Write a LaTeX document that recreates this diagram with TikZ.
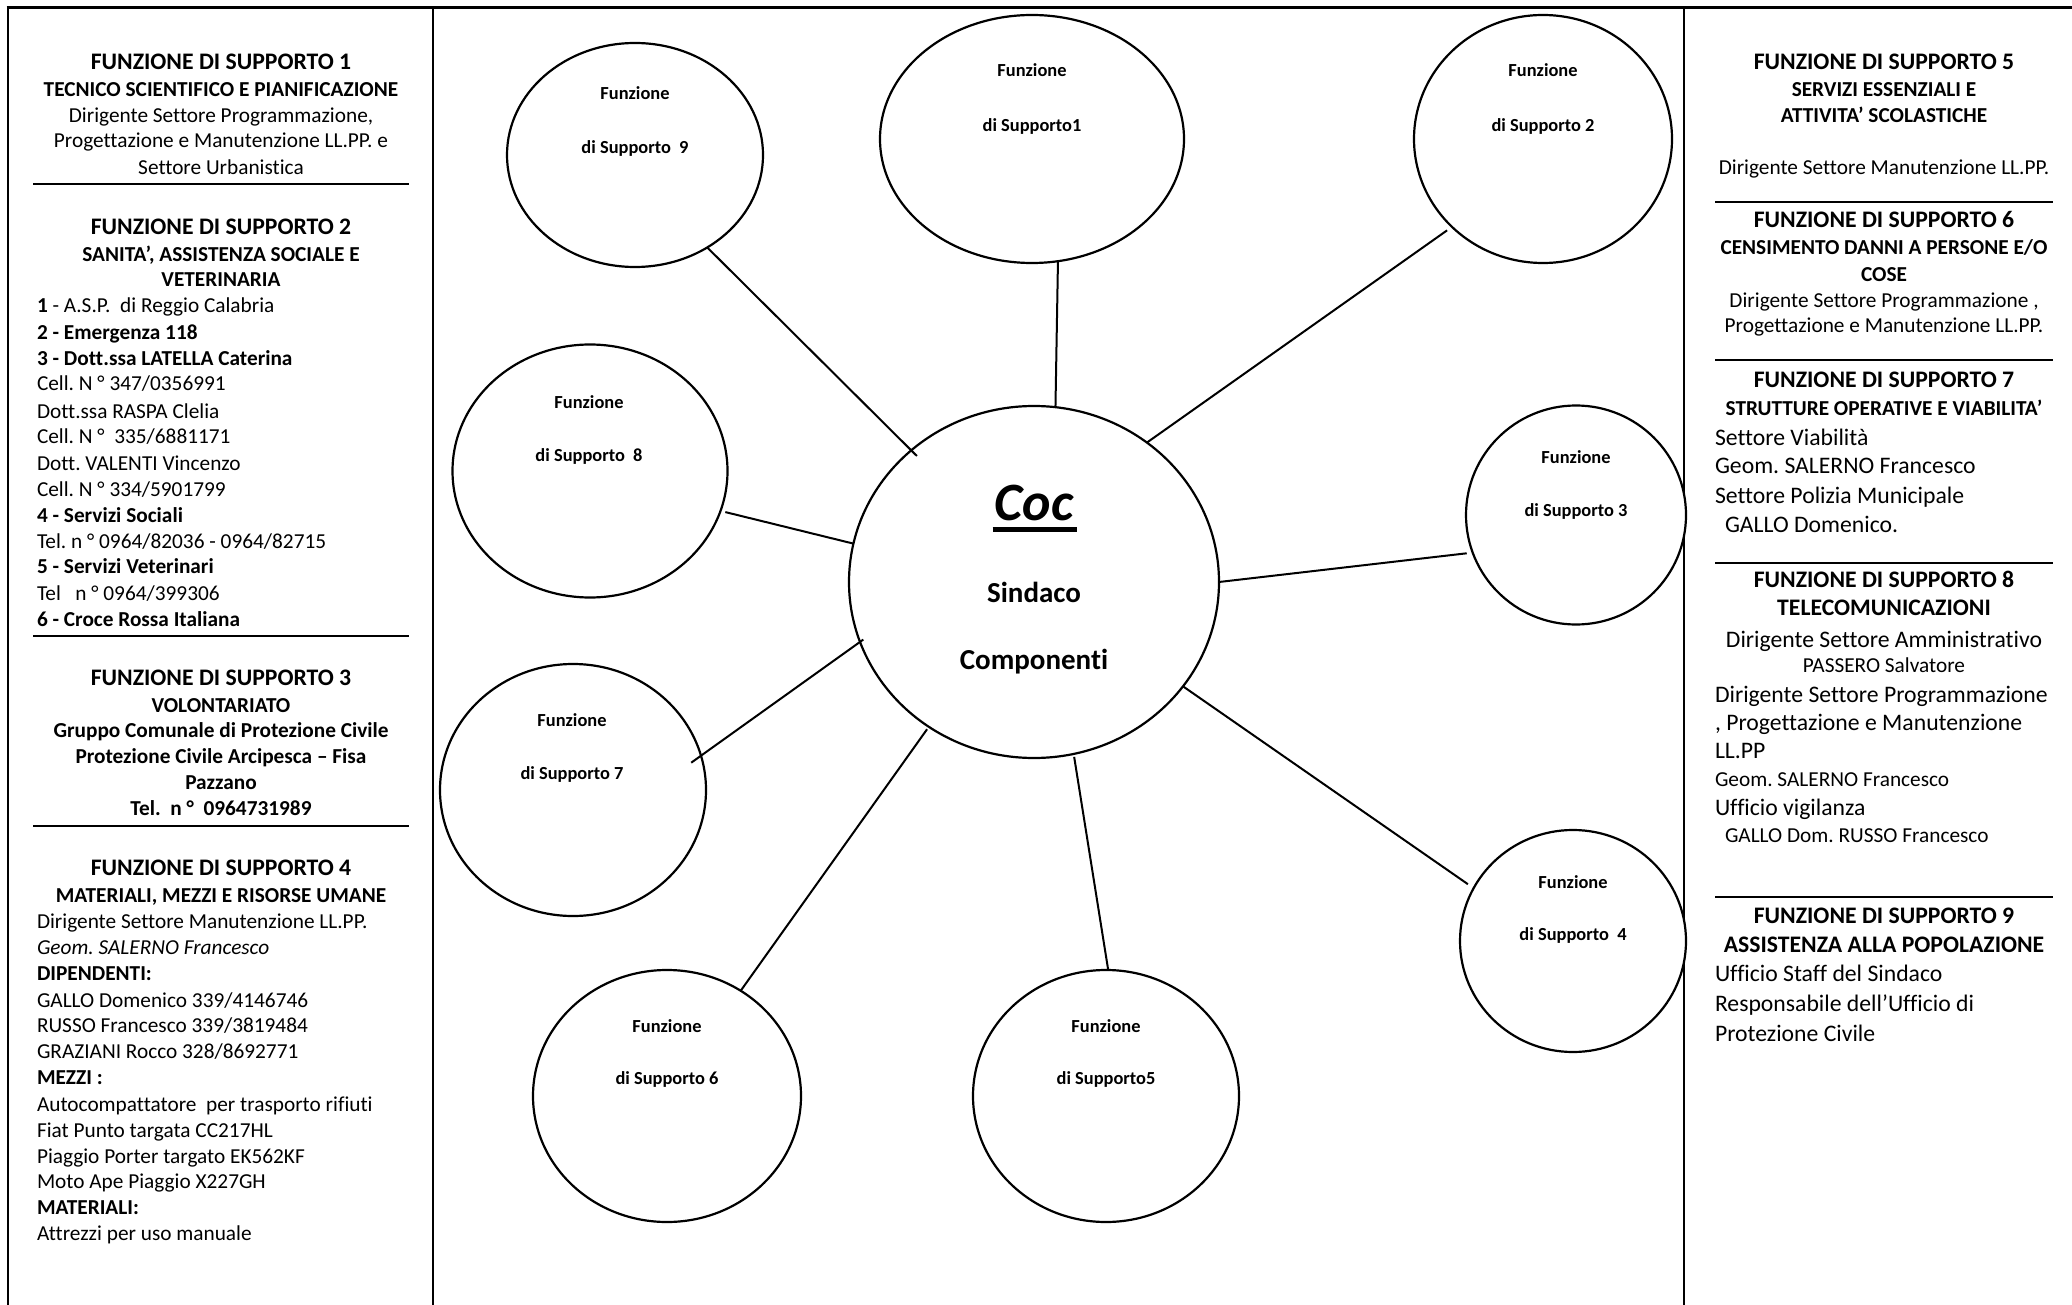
\documentclass[tikz,border=0pt]{standalone}
\usepackage{fontspec}
\setmainfont{Carlito}[Ligatures={TeX,NoCommon,NoRare,NoDiscretionary},Contextuals={NoAlternate}]
\frenchspacing
\usetikzlibrary{shapes.geometric}
\tikzset{
  every node/.style={inner sep=0pt, outer sep=0pt},
  hd/.style={anchor=base, font=\fontsize{23.7}{28}\selectfont\bfseries},
  sh/.style={anchor=base, font=\fontsize{21.3}{26}\selectfont\bfseries},
  shl/.style={anchor=base, font=\fontsize{23.7}{28}\selectfont\bfseries},
  bdc/.style={anchor=base, font=\fontsize{21.3}{26}\selectfont},
  bdl/.style={anchor=base west, font=\fontsize{21.3}{26}\selectfont},
  bbl/.style={anchor=base west, font=\fontsize{21.3}{26}\selectfont\bfseries},
  lgc/.style={anchor=base, font=\fontsize{23.7}{28}\selectfont},
  lgl/.style={anchor=base west, font=\fontsize{23.7}{28}\selectfont},
  ct/.style={anchor=base, font=\fontsize{18.4}{22}\selectfont\bfseries},
  ctr/.style={anchor=base, font=\fontsize{29}{34}\selectfont\bfseries},
  bubble/.style={ellipse, draw, line width=2.2pt, fill=white},
  frameline/.style={line width=2.8pt},
  rulel/.style={line width=2.8pt},
  ruler/.style={line width=1.8pt},
  link/.style={line width=2pt}
}
\begin{document}
\frenchspacing
\begin{tikzpicture}[x=1pt,y=-1pt]
\useasboundingbox (0,0) rectangle (2072,1305);
\fill[white] (0,0) rectangle (2072,1305);
% frame
\draw[frameline] (6.6,7.5) -- (2072,7.5);
\draw[frameline] (8,6.1) -- (8,1305);
\draw[frameline] (433,6.1) -- (433,1305);
\draw[frameline] (1684,6.1) -- (1684,1305);

% ---------- left column ----------
\node[hd] (L1) at (221,70) {FUNZIONE DI SUPPORTO 1};
\node[sh] (L2) at (221,97) {TECNICO SCIENTIFICO E PIANIFICAZIONE};
\node[bdc] (L3) at (221,123) {Dirigente Settore Programmazione,};
\node[bdc] (L4) at (221,148) {Progettazione e Manutenzione LL.PP. e};
\node[bdc] (L5) at (221,175) {Settore Urbanistica};
\draw[rulel] (33,184) -- (409,184);
\node[hd] (L6) at (221,235) {FUNZIONE DI SUPPORTO 2};
\node[sh] (L7) at (221,262) {SANITA’, ASSISTENZA SOCIALE E};
\node[sh] (L8) at (221,287) {VETERINARIA};
\node[bdl] (L9) at (37,313) {\textbf{1} - A.S.P.\ \ di Reggio Calabria};
\node[bbl] (L10) at (37,340) {2 - Emergenza 118};
\node[bbl] (L11) at (37,366) {3 - Dott.ssa LATELLA Caterina};
\node[bdl] (L12) at (37,391) {Cell. N ° 347/0356991};
\node[bdl] (L13) at (37,418) {Dott.ssa RASPA Clelia};
\node[bdl] (L14) at (37,443) {Cell. N °\ \ 335/6881171};
\node[bdl] (L15) at (37,470) {Dott. VALENTI Vincenzo};
\node[bdl] (L16) at (37,496) {Cell. N ° 334/5901799};
\node[bbl] (L17) at (37,522) {4 - Servizi Sociali};
\node[bdl] (L18) at (37,548) {Tel. n ° 0964/82036 - 0964/82715};
\node[bbl] (L19) at (37,573) {5 - Servizi Veterinari};
\node[bdl] (L20) at (37,600) {Tel\ \ \ n ° 0964/399306};
\node[bbl] (L21) at (37,626) {6 - Croce Rossa Italiana};
\draw[rulel] (33,636) -- (409,636);
\node[hd] (L22) at (221,685) {FUNZIONE DI SUPPORTO 3};
\node[sh] (L23) at (221,712) {VOLONTARIATO};
\node[sh] (L24) at (221,737) {Gruppo Comunale di Protezione Civile};
\node[sh] (L25) at (221,763) {Protezione Civile Arcipesca – Fisa};
\node[sh] (L26) at (221,789) {Pazzano};
\node[sh] (L27) at (221,815) {Tel.\ \ n °\ \ 0964731989};
\draw[rulel] (33,826) -- (409,826);
\node[hd] (L28) at (221,875) {FUNZIONE DI SUPPORTO 4};
\node[sh] (L29) at (221,902) {MATERIALI, MEZZI E RISORSE UMANE};
\node[bdl] (L30) at (37,928) {Dirigente Settore Manutenzione LL.PP.};
\node[bdl] (L31) at (37,954) {\itshape Geom. SALERNO Francesco};
\node[bbl] (L32) at (37,980) {DIPENDENTI:};
\node[bdl] (L33) at (37,1007) {GALLO Domenico 339/4146746};
\node[bdl] (L34) at (37,1032) {RUSSO Francesco 339/3819484};
\node[bdl] (L35) at (37,1058) {GRAZIANI Rocco 328/8692771};
\node[bbl] (L36) at (37,1084) {MEZZI :};
\node[bdl] (L37) at (37,1111) {Autocompattatore\ \ per trasporto rifiuti};
\node[bdl] (L38) at (37,1137) {Fiat Punto targata CC217HL};
\node[bdl] (L39) at (37,1163) {Piaggio Porter targato EK562KF};
\node[bdl] (L40) at (37,1188) {Moto Ape Piaggio X227GH};
\node[bbl] (L41) at (37,1214) {MATERIALI:};
\node[bdl] (L42) at (37,1240) {Attrezzi per uso manuale};

% ---------- right column ----------
\node[hd] (R1) at (1884,70) {FUNZIONE DI SUPPORTO 5};
\node[sh] (R2) at (1884,97) {SERVIZI ESSENZIALI E};
\node[sh] (R3) at (1884,123) {ATTIVITA’ SCOLASTICHE};
\node[bdc] (R4) at (1884,175) {Dirigente Settore Manutenzione LL.PP.};
\draw[ruler] (1715,202) -- (2053,202);
\node[hd] (R5) at (1884,228) {FUNZIONE DI SUPPORTO 6};
\node[sh] (R6) at (1884,255) {CENSIMENTO DANNI A PERSONE E/O};
\node[sh] (R7) at (1884,282) {COSE};
\node[bdc] (R8) at (1884,308) {Dirigente Settore Programmazione ,};
\node[bdc] (R9) at (1884,333) {Progettazione e Manutenzione LL.PP.};
\draw[ruler] (1715,360) -- (2053,360);
\node[hd] (R10) at (1884,388) {FUNZIONE DI SUPPORTO 7};
\node[sh] (R11) at (1884,415) {STRUTTURE OPERATIVE E VIABILITA’};
\node[lgl] (R12) at (1715,445) {Settore Viabilità};
\node[lgl] (R13) at (1715,473) {Geom. SALERNO Francesco};
\node[lgl] (R14) at (1715,503) {Settore Polizia Municipale};
\node[lgl] (R15) at (1725,532) {GALLO Domenico.};
\draw[ruler] (1715,563) -- (2053,563);
\node[hd] (R16) at (1884,587) {FUNZIONE DI SUPPORTO 8};
\node[shl] (R17) at (1884,615) {TELECOMUNICAZIONI};
\node[lgc] (R18) at (1884,647) {Dirigente Settore Amministrativo};
\node[bdc] (R19) at (1884,672) {PASSERO Salvatore};
\node[lgl] (R20) at (1715,702) {Dirigente Settore Programmazione};
\node[lgl] (R21) at (1715,730) {, Progettazione e Manutenzione};
\node[lgl] (R22) at (1715,758) {LL.PP};
\node[bdl] (R23) at (1715,786) {Geom. SALERNO Francesco};
\node[lgl] (R24) at (1715,815) {Ufficio vigilanza};
\node[bdl] (R25) at (1725,842) {GALLO Dom. RUSSO Francesco};
\draw[ruler] (1715,897) -- (2053,897);
\node[hd] (R26) at (1884,923) {FUNZIONE DI SUPPORTO 9};
\node[shl] (R27) at (1884,952) {ASSISTENZA ALLA POPOLAZIONE};
\node[lgl] (R28) at (1715,981) {Ufficio Staff del Sindaco};
\node[lgl] (R29) at (1715,1011) {Responsabile dell’Ufficio di};
\node[lgl] (R30) at (1715,1041) {Protezione Civile};

% ---------- bubbles ----------
\node[bubble, minimum width=370pt, minimum height=352pt] (coc) at (1034,582) {};
\node[bubble, minimum width=256pt, minimum height=224pt] (s9) at (635,155) {};
\node[bubble, minimum width=304pt, minimum height=248pt] (s1) at (1032,139) {};
\node[bubble, minimum width=258pt, minimum height=248pt] (s2) at (1543,139) {};
\node[bubble, minimum width=275pt, minimum height=253pt] (s8) at (590,471) {};
\node[bubble, minimum width=220pt, minimum height=219pt] (s3) at (1576,515) {};
\node[bubble, minimum width=266pt, minimum height=252pt] (s7) at (573,790) {};
\node[bubble, minimum width=226pt, minimum height=222pt] (s4) at (1573,941) {};
\node[bubble, minimum width=268pt, minimum height=252pt] (s6) at (667,1096) {};
\node[bubble, minimum width=266pt, minimum height=252pt] (s5) at (1106,1096) {};

% connectors
\draw[link, shorten <=-8pt] (coc.133.8) -- (s9.-52);
\draw[link] (coc.83) -- (s1.-78.8);
\draw[link, shorten >=6pt] (coc.51.5) -- (s2.-136.2);
\draw[link, shorten >=6pt] (coc.-0.3) -- (s3.200.9);
\draw[link, shorten >=7pt] (coc.-35.2) -- (s4.152.6);
\draw[link, shorten <=3pt] (coc.-77.5) -- (s5.89.1);
\draw[link, shorten <=3pt] (coc.234.6) -- (s6.55);
\draw[link, shorten <=-4pt, shorten >=-12pt] (coc.199.5) -- (s7.15);
\draw[link, shorten >=5pt] (coc.168.8) -- (s8.-17.2);

% bubble texts
\node[ct] (t9a) at (635,100) {Funzione};
\node[ct] (t9b) at (635,154) {di Supporto\ \ 9};
\node[ct] (t1a) at (1032,77) {Funzione};
\node[ct] (t1b) at (1032,132) {di Supporto1};
\node[ct] (t2a) at (1543,77) {Funzione};
\node[ct] (t2b) at (1543,132) {di Supporto 2};
\node[ct] (t8a) at (589,408) {Funzione};
\node[ct] (t8b) at (589,461) {di Supporto\ \ 8};
\node[ct] (t3a) at (1576,463) {Funzione};
\node[ct] (t3b) at (1576,516) {di Supporto 3};
\node[ct] (t7a) at (572,726) {Funzione};
\node[ct] (t7b) at (572,779) {di Supporto 7};
\node[ct] (t4a) at (1573,888) {Funzione};
\node[ct] (t4b) at (1573,940) {di Supporto\ \ 4};
\node[ct] (t6a) at (667,1032) {Funzione};
\node[ct] (t6b) at (667,1084) {di Supporto 6};
\node[ct] (t5a) at (1106,1032) {Funzione};
\node[ct] (t5b) at (1106,1084) {di Supporto5};

% centre texts
\node[anchor=base, font=\fontsize{54}{60}\selectfont\bfseries\itshape] (coct) at (1034,520) {Coc};
\draw[line width=5pt] ([xshift=-2pt,yshift=-9.5pt]coct.base west) -- ([xshift=4pt,yshift=-9.5pt]coct.base east);
\node[ctr] (cocs) at (1034,602) {Sindaco};
\node[ctr] (cocc) at (1034,669) {Componenti};
\end{tikzpicture}
\end{document}
